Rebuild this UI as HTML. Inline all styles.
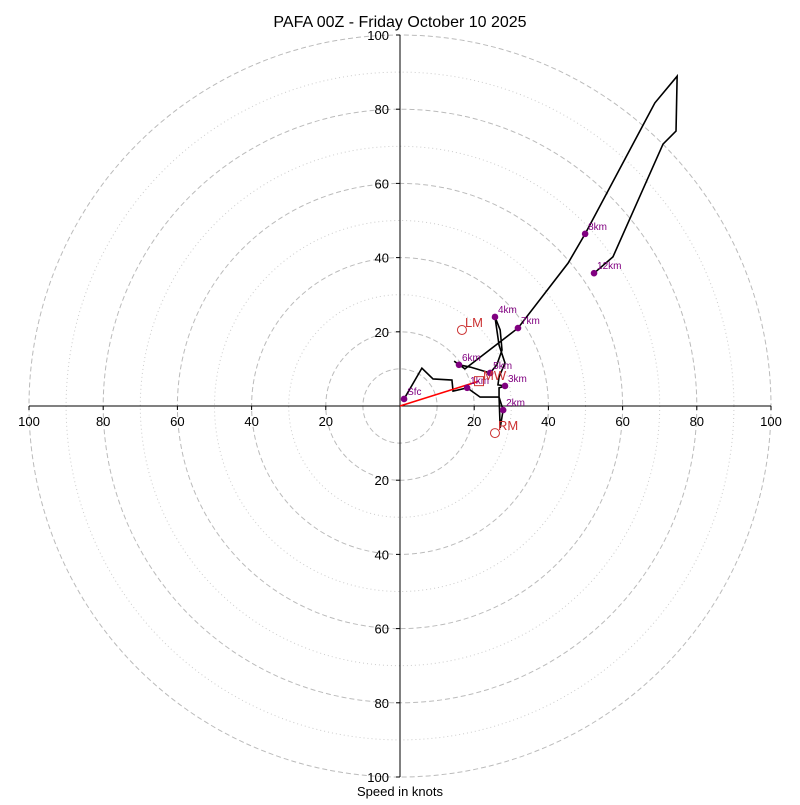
<!DOCTYPE html>
<html><head><meta charset="utf-8"><style>
body{margin:0;background:#fff}
svg text{font-family:"Liberation Sans","DejaVu Sans",sans-serif}
</style></head><body>
<svg id="c" width="800" height="800"></svg>
<script>
const ringDashed=[10,20,40,60,80,100];
const ringDotted=[30,50,70,90];
const tickVals=[20,40,60,80,100];
const pathU=[1.1,5.9,8.9,14.0,14.3,18.1,21.6,26.7,27.0,27.8,26.7,26.7,28.3,26.4,26.7,28.3,26.7,25.6,27.0,27.5,26.1,24.3,18.9,15.9,14.6,17.5,31.8,45.3,49.9,68.7,74.7,74.4,70.9,57.4,52.3];
const pathV=[1.9,10.2,7.3,7.0,4.0,4.9,2.4,2.4,-5.9,-1.1,2.4,4.9,5.4,5.7,7.8,11.6,16.4,24.0,20.5,15.1,11.1,8.9,10.5,11.1,12.1,10.0,21.0,38.5,46.4,81.7,88.9,74.1,70.6,40.2,35.8];
const hLabels=["Sfc","1km","2km","3km","4km","5km","6km","7km","8km","12km"];
const hU=[1.1,18.1,27.8,28.3,25.6,24.3,15.9,31.8,49.9,52.3];
const hV=[1.9,4.9,-1.1,5.4,24.0,8.9,11.1,21.0,46.4,35.8];
const mw=[21.3,6.7], lm=[16.7,20.5], rm=[25.6,-7.3];
const cx=400,cy=406,k=3.71;
const X=u=>cx+u*k, Y=v=>cy-v*k;
const svg=document.getElementById('c');const NS='http://www.w3.org/2000/svg';
function el(t,a,p){const e=document.createElementNS(NS,t);for(const n in a)e.setAttribute(n,a[n]);(p||svg).appendChild(e);return e;}
let e;
e=el('text',{x:400,y:27,'text-anchor':'middle','font-size':16});e.textContent='PAFA 00Z - Friday October 10 2025';

ringDashed.forEach(r=>{e=el('circle',{cx,cy,r:r*k,fill:'none',stroke:'#bbb','stroke-dasharray':'5,3','stroke-width':1});
});
ringDotted.forEach(r=>{e=el('circle',{cx,cy,r:r*k,fill:'none',stroke:'#ccc','stroke-dasharray':'1,3','stroke-width':1});
});
e=el('line',{x1:X(-100),y1:cy,x2:X(100),y2:cy,stroke:'#000'});
e=el('line',{x1:cx,y1:Y(100),x2:cx,y2:Y(-100),stroke:'#000'});
tickVals.forEach(t=>{[-1,1].forEach(s=>{
 el('line',{x1:X(s*t),y1:cy,x2:X(s*t),y2:cy+4,stroke:'#000'});
 e=el('text',{x:X(s*t),y:cy+20,'text-anchor':'middle','font-size':13});e.textContent=t;
 
 el('line',{x1:cx-4,y1:Y(s*t),x2:cx,y2:Y(s*t),stroke:'#000'});
 e=el('text',{x:cx-11,y:Y(s*t)+5,'text-anchor':'end','font-size':13});e.textContent=t;
 
});});
e=el('text',{x:400,y:796,'text-anchor':'middle','font-size':13});e.textContent='Speed in knots';

e=el('polyline',{points:pathU.map((u,i)=>X(u)+','+Y(pathV[i])).join(' '),fill:'none',stroke:'#000','stroke-width':1.6});

e=el('line',{x1:cx,y1:cy,x2:X(mw[0]),y2:Y(mw[1]),stroke:'red','stroke-width':1.6});

hLabels.forEach((l,i)=>{
 e=el('circle',{cx:X(hU[i]),cy:Y(hV[i]),r:3.3,fill:'purple'});
 
 e=el('text',{x:X(hU[i])+3,y:Y(hV[i])-4,'font-size':10,fill:'purple'});e.textContent=l;
 
});
e=el('rect',{x:X(mw[0])-4.5,y:Y(mw[1])-4.5,width:9,height:9,fill:'none',stroke:'#c33'});

e=el('text',{x:X(mw[0])+4,y:Y(mw[1])-1,'font-size':13,fill:'#c33'});e.textContent='MW';

[[lm,'LM'],[rm,'RM']].forEach(([p,l])=>{
 e=el('circle',{cx:X(p[0]),cy:Y(p[1]),r:4.5,fill:'none',stroke:'#c33'});
 
 e=el('text',{x:X(p[0])+3,y:Y(p[1])-3,'font-size':13,fill:'#c33'});e.textContent=l;
 
});
</script>
</body></html>
